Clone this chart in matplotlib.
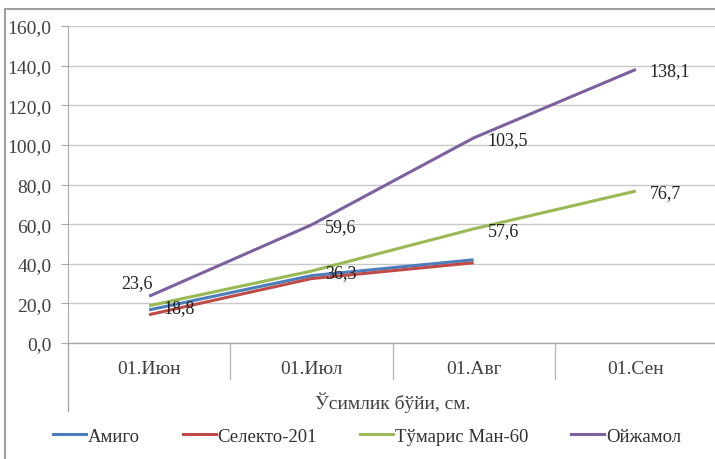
import numpy as np
import matplotlib
matplotlib.use('Agg')
import matplotlib.pyplot as plt
from matplotlib.patches import Rectangle
from matplotlib.lines import Line2D

# plant height by date, cm
dates = ['01.Июн', '01.Июл', '01.Авг', '01.Сен']
amigo = [16.7, 34.0, 42.0]
selekto = [14.3, 32.5, 40.5]
tumaris = [18.8, 36.3, 57.6, 76.7]
oyjamol = [23.6, 59.6, 103.5, 138.1]

names = ['Амиго', 'Селекто-201', 'Тўмарис Ман-60', 'Ойжамол']
colors = ['#4a7ebb', '#be4b48', '#98b954', '#7d60a0']
y_ticks = [0, 20, 40, 60, 80, 100, 120, 140, 160]

plt.rcParams['font.family'] = ['Liberation Serif', 'DejaVu Serif']

fig = plt.figure(figsize=(7.15, 4.6), dpi=100)
W, H = 715, 460
ax = fig.add_axes([68 / W, 1 - 344 / H, 649 / W, 317 / H])

# outer chart frame
fig.patches.append(Rectangle((5 / W, -0.1), 1.2, 1 - 10 / H + 0.1,
                             transform=fig.transFigure, fill=False,
                             edgecolor='#a0a0a0', linewidth=1.5))

x = np.arange(len(dates)) + 0.5
series = [amigo, selekto, tumaris, oyjamol]
for vals, name, c in zip(series, names, colors):
    ax.plot(x[:len(vals)], vals, color=c, linewidth=2.2, label=name,
            solid_capstyle='butt', zorder=3)

ax.set_xlim(0, 4)
ax.set_ylim(0, 160)
ax.set_yticks(y_ticks)
ax.set_yticklabels([('%.1f' % v).replace('.', ',') for v in y_ticks])
ax.grid(axis='y', color='#c8c8c8', linewidth=1)
ax.set_axisbelow(True)
for s in ['top', 'right', 'bottom']:
    ax.spines[s].set_visible(False)
ax.spines['left'].set_color('#a8a8a8')
ax.tick_params(axis='y', length=5, color='#a8a8a8', labelsize=14,
               labelcolor='#404040', pad=7)
ax.set_xticks([])

# category axis: base line, separators and labels
trans = ax.get_xaxis_transform()
ax.plot([0, 4], [0, 0], color='#a8a8a8', linewidth=1, transform=trans, clip_on=False)
ax.plot([0, 0], [0, -68 / 317], color='#a8a8a8', linewidth=1, transform=trans, clip_on=False)
for b in [1, 2, 3]:
    ax.plot([b, b], [0, -36 / 317], color='#b8b8b8', linewidth=1, transform=trans, clip_on=False)
for xi, d in zip(x, dates):
    ax.text(xi, -26 / 317, d, transform=trans, ha='center', va='center',
            fontsize=14, color='#404040')
ax.text(2.0, -59 / 317, 'Ўсимлик бўйи, см.', transform=trans, ha='center',
        va='center', fontsize=14, color='#404040')

# value labels
def lab(xi, v, dx=10, dy=-1, ha='left'):
    ax.annotate(('%.1f' % v).replace('.', ','), (xi, v), xytext=(dx, dy),
                textcoords='offset points', ha=ha, va='center', fontsize=13,
                color='#222222', zorder=4)

for xi, v in zip(x[1:], oyjamol[1:]):
    lab(xi, v)
lab(x[0], oyjamol[0], dx=-20, dy=10)
for xi, v in zip(x, tumaris):
    lab(xi, v)

handles = [Line2D([], [], color=c, linewidth=2.2) for c in colors]
fig.legend(handles, names, loc='center', bbox_to_anchor=(367 / W, 1 - 437 / H),
           ncol=4, frameon=False, fontsize=13.5, handlelength=1.75,
           handletextpad=0.1, columnspacing=2.3, labelcolor='#303030')

fig.savefig('out.png', dpi=100)
